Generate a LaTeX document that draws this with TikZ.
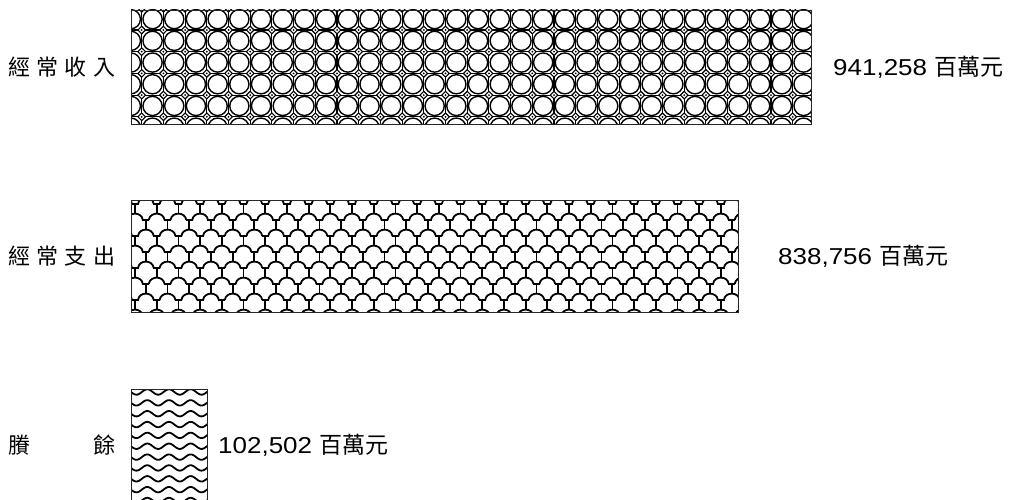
\documentclass[tikz,border=0pt]{standalone}
\usepackage{fontspec}
\setmainfont[FakeStretch=1.13]{Liberation Sans}
\newfontfamily\cjkfam{Noto Sans CJK TC}
\newfontfamily\cjklabfam[LetterSpace=29]{Noto Sans CJK TC}
\newcommand\labfont{\cjklabfam\fontsize{22}{26}\selectfont}
\newcommand\valfont{\fontsize{23}{27}\selectfont}
\newcommand\cjk{\cjkfam}
\tikzset{
  bar/.style={draw=black!85, line width=1pt, inner sep=0pt, rectangle, anchor=north west},
  pl/.style={line width=1.1pt, black},
  pring/.style={line width=1.4pt, black},
  pthick/.style={line width=1.8pt, black},
  lab/.style={anchor=west, inner sep=0pt, font=\labfont},
  val/.style={anchor=west, inner sep=0pt, font=\valfont},
}
\begin{document}
\begin{tikzpicture}[x=1pt,y=-1pt]
  \useasboundingbox[fill=white] (0,0) rectangle (1023,500);

  % ---- circle pattern in bar 1
  \begin{scope}[shift={(131,10)}]
    \clip (0,0) rectangle (680,114);
    \foreach \k in {-1,...,32}{
      \draw[pl] ({10.7+21.7*\k},-5) -- ++(0,130);
    }
    \foreach \m in {-1,...,6}{
      \draw[pl] (-5,{20+21.7*\m}) -- ++(700,0);
    }
    \foreach \k in {-1,...,31}{
      \foreach \m in {-1,...,4}{
        \draw[pring, fill=white] ({21.55+21.7*\k},{30.85+21.7*\m}) circle[radius=9.6];
      }
    }
    \foreach \k in {-1,...,31}{
      \foreach \m in {-1,...,5}{
        \draw[line width=1.1pt, fill=white] ({10.7+21.7*\k},{20+21.7*\m}) +(-3.8,0) -- +(0,-3.8) -- +(3.8,0) -- +(0,3.8) -- cycle;
        \fill ({10.7+21.7*\k},{20+21.7*\m}) circle[radius=1];
      }
    }
  \end{scope}

  % ---- scale pattern in bar 2
  \begin{scope}[shift={(131,200)}]
    \clip (0,0) rectangle (607,112);
    \foreach \j in {-1,...,7}{
      \pgfmathsetmacro\yy{4+16*\j}
      \pgfmathsetmacro\xo{mod(\j+2,2)*10.85}
      \foreach \i in {-1,...,28}{
        \pgfmathsetmacro\xx{4+\xo+21.7*\i}
        \draw[pthick] (\xx+3,\yy) .. controls (\xx+4,\yy-8.5) and (\xx+17.7,\yy-8.5) .. (\xx+18.7,\yy);
        \draw[pthick] (\xx-3.6,\yy) -- (\xx+3.6,\yy);
        \draw[pthick] (\xx,\yy) -- (\xx,\yy+9.6);
      }
    }
  \end{scope}

  % ---- wave pattern in bar 3
  \begin{scope}[shift={(131,389)}]
    \clip (0,0) rectangle (76,112);
    \foreach \j in {0,...,10}{
      \pgfmathsetmacro\yy{3+10.85*\j}
      \draw[pthick] plot[domain=-6:84, samples=80] (\x,{\yy+2.7*sin(\x*16.59)});
    }
  \end{scope}

  \node[bar, minimum width=680pt, minimum height=114pt] (b1) at (131,10) {};
  \node[bar, minimum width=607pt, minimum height=112pt] (b2) at (131,200) {};
  \node[bar, minimum width=76pt, minimum height=112pt] (b3) at (131,389) {};

  \node[lab] (l1) at (8,67) {經常收入};
  \node[lab] (l2) at (8,256) {經常支出};
  \node[lab] (l3) at (8,445) {賸　　餘};

  \node[val] (v1) at (833,67) {941,258 {\cjk 百萬元}};
  \node[val] (v2) at (778,256) {838,756 {\cjk 百萬元}};
  \node[val] (v3) at (218,445) {102,502 {\cjk 百萬元}};
\end{tikzpicture}
\end{document}
